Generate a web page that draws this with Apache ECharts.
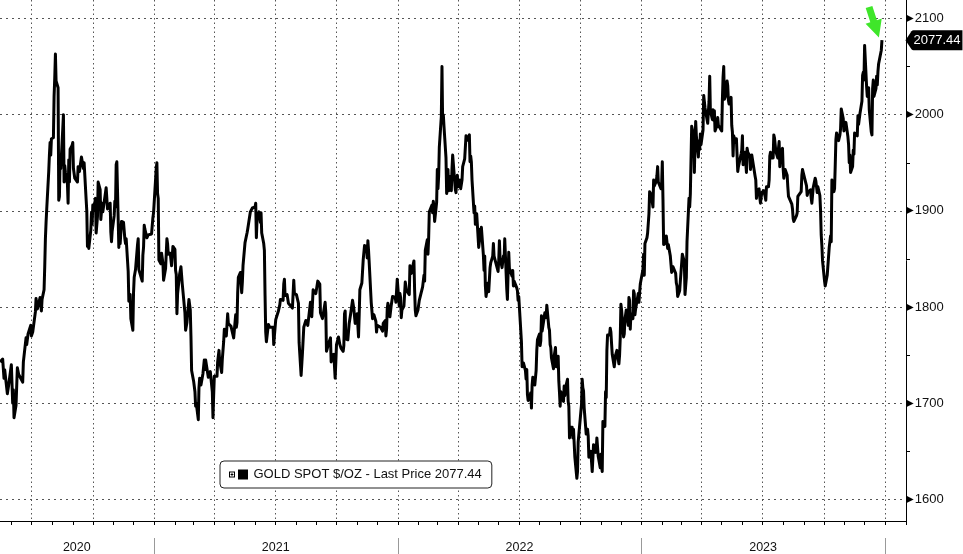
<!DOCTYPE html>
<html><head><meta charset="utf-8">
<script src="https://cdn.jsdelivr.net/npm/echarts@6/dist/echarts.min.js"></script>
<style>html,body{margin:0;padding:0;background:#fff}#c{width:963px;height:554px}</style>
</head><body><div id="c"></div>
<script>
const gold2020 = [['2020-05-15',1743],['2020-05-19',1746],['2020-05-21',1726],['2020-05-22',1735],['2020-05-26',1710],['2020-05-28',1719],['2020-06-01',1740],['2020-06-03',1700],['2020-06-04',1714],['2020-06-05',1685],['2020-06-08',1698],['2020-06-10',1737],['2020-06-12',1730],['2020-06-15',1726],['2020-06-18',1722],['2020-06-19',1743],['2020-06-23',1768],['2020-06-24',1761],['2020-06-26',1772],['2020-06-30',1781],['2020-07-01',1770],['2020-07-03',1774],['2020-07-07',1795],['2020-07-08',1809],['2020-07-10',1798],['2020-07-14',1810],['2020-07-16',1796],['2020-07-17',1808],['2020-07-20',1818],['2020-07-21',1842],['2020-07-22',1871],['2020-07-23',1888],['2020-07-24',1902],['2020-07-27',1941],['2020-07-28',1958],['2020-07-29',1971],['2020-07-30',1958],['2020-07-31',1975],['2020-08-03',1976],['2020-08-04',2019],['2020-08-05',2038],['2020-08-06',2063],['2020-08-07',2035],['2020-08-10',2028],['2020-08-11',1911],['2020-08-12',1915],['2020-08-13',1954],['2020-08-14',1944],['2020-08-17',1985],['2020-08-18',2000],['2020-08-19',1930],['2020-08-20',1947],['2020-08-21',1940],['2020-08-24',1928],['2020-08-25',1908],['2020-08-26',1953],['2020-08-27',1930],['2020-08-28',1964],['2020-08-31',1968],['2020-09-01',1971],['2020-09-02',1944],['2020-09-04',1934],['2020-09-08',1930],['2020-09-09',1946],['2020-09-11',1941],['2020-09-14',1956],['2020-09-16',1958],['2020-09-17',1944],['2020-09-18',1950],['2020-09-21',1912],['2020-09-22',1900],['2020-09-23',1863],['2020-09-24',1868],['2020-09-25',1861],['2020-09-28',1880],['2020-09-29',1898],['2020-09-30',1886],['2020-10-01',1906],['2020-10-02',1900],['2020-10-05',1913],['2020-10-06',1877],['2020-10-08',1894],['2020-10-09',1930],['2020-10-12',1922],['2020-10-13',1891],['2020-10-15',1908],['2020-10-16',1899],['2020-10-21',1924],['2020-10-23',1902],['2020-10-27',1908],['2020-10-28',1878],['2020-10-29',1868],['2020-10-30',1879],['2020-11-02',1895],['2020-11-03',1910],['2020-11-04',1904],['2020-11-05',1948],['2020-11-06',1951],['2020-11-09',1862],['2020-11-10',1877],['2020-11-11',1866],['2020-11-13',1889],['2020-11-16',1888],['2020-11-18',1871],['2020-11-19',1866],['2020-11-20',1871],['2020-11-23',1837],['2020-11-24',1806],['2020-11-26',1813],['2020-11-27',1788],['2020-11-30',1776],['2020-12-01',1815],['2020-12-02',1831],['2020-12-04',1839],['2020-12-07',1865],['2020-12-08',1871],['2020-12-09',1839],['2020-12-11',1839],['2020-12-14',1827],['2020-12-15',1854],['2020-12-16',1862],['2020-12-17',1885],['2020-12-18',1881],['2020-12-21',1872],['2020-12-23',1875],['2020-12-28',1876],['2020-12-30',1893],['2020-12-31',1898]];
const gold2021 = [['2021-01-04',1944],['2021-01-05',1950],['2021-01-06',1918],['2021-01-07',1913],['2021-01-08',1849],['2021-01-11',1845],['2021-01-12',1856],['2021-01-14',1846],['2021-01-15',1828],['2021-01-18',1840],['2021-01-20',1871],['2021-01-21',1866],['2021-01-22',1855],['2021-01-25',1856],['2021-01-27',1843],['2021-01-29',1863],['2021-02-01',1860],['2021-02-02',1838],['2021-02-03',1834],['2021-02-04',1793],['2021-02-05',1814],['2021-02-08',1834],['2021-02-10',1842],['2021-02-12',1824],['2021-02-16',1794],['2021-02-17',1776],['2021-02-18',1775],['2021-02-19',1784],['2021-02-22',1808],['2021-02-24',1797],['2021-02-25',1770],['2021-02-26',1734],['2021-03-01',1723],['2021-03-03',1712],['2021-03-04',1697],['2021-03-05',1700],['2021-03-08',1683],['2021-03-09',1716],['2021-03-10',1726],['2021-03-12',1719],['2021-03-15',1731],['2021-03-17',1745],['2021-03-18',1735],['2021-03-19',1745],['2021-03-23',1727],['2021-03-25',1725],['2021-03-26',1733],['2021-03-29',1712],['2021-03-30',1685],['2021-03-31',1708],['2021-04-01',1728],['2021-04-05',1728],['2021-04-06',1743],['2021-04-08',1755],['2021-04-09',1744],['2021-04-12',1732],['2021-04-13',1746],['2021-04-15',1764],['2021-04-16',1777],['2021-04-19',1770],['2021-04-21',1793],['2021-04-22',1783],['2021-04-26',1780],['2021-04-28',1774],['2021-04-30',1768],['2021-05-03',1792],['2021-05-04',1779],['2021-05-05',1784],['2021-05-06',1815],['2021-05-07',1831],['2021-05-10',1836],['2021-05-12',1815],['2021-05-13',1826],['2021-05-14',1843],['2021-05-17',1867],['2021-05-18',1869],['2021-05-20',1877],['2021-05-21',1881],['2021-05-25',1899],['2021-05-26',1897],['2021-05-28',1903],['2021-06-01',1904],['2021-06-02',1908],['2021-06-03',1872],['2021-06-04',1891],['2021-06-07',1899],['2021-06-09',1888],['2021-06-10',1898],['2021-06-11',1877],['2021-06-14',1866],['2021-06-15',1859],['2021-06-16',1812],['2021-06-17',1774],['2021-06-18',1764],['2021-06-21',1782],['2021-06-23',1779],['2021-06-25',1781],['2021-06-28',1779],['2021-06-29',1761],['2021-06-30',1770],['2021-07-02',1787],['2021-07-06',1796],['2021-07-08',1802],['2021-07-09',1808],['2021-07-13',1807],['2021-07-14',1824],['2021-07-15',1829],['2021-07-16',1812],['2021-07-19',1813],['2021-07-21',1804],['2021-07-23',1802],['2021-07-27',1799],['2021-07-29',1828],['2021-07-30',1814],['2021-08-02',1813],['2021-08-04',1812],['2021-08-05',1804],['2021-08-06',1763],['2021-08-09',1729],['2021-08-10',1731],['2021-08-11',1752],['2021-08-13',1779],['2021-08-16',1786],['2021-08-18',1787],['2021-08-19',1781],['2021-08-23',1805],['2021-08-25',1790],['2021-08-27',1818],['2021-08-31',1814],['2021-09-03',1827],['2021-09-06',1824],['2021-09-07',1794],['2021-09-09',1795],['2021-09-10',1788],['2021-09-14',1805],['2021-09-15',1794],['2021-09-16',1754],['2021-09-17',1754],['2021-09-20',1764],['2021-09-22',1768],['2021-09-23',1743],['2021-09-24',1750],['2021-09-27',1751],['2021-09-29',1726],['2021-09-30',1743],['2021-10-01',1761],['2021-10-04',1769],['2021-10-06',1761],['2021-10-08',1757],['2021-10-11',1754],['2021-10-12',1760],['2021-10-13',1793],['2021-10-14',1796],['2021-10-15',1767],['2021-10-18',1766],['2021-10-20',1783],['2021-10-21',1784],['2021-10-22',1792],['2021-10-25',1807],['2021-10-27',1798],['2021-10-29',1783],['2021-11-01',1793],['2021-11-03',1769],['2021-11-04',1792],['2021-11-05',1818],['2021-11-08',1825],['2021-11-10',1849],['2021-11-12',1864],['2021-11-15',1863],['2021-11-16',1851],['2021-11-17',1869],['2021-11-18',1859],['2021-11-19',1846],['2021-11-22',1805],['2021-11-24',1788],['2021-11-26',1792],['2021-11-29',1785],['2021-11-30',1774],['2021-12-01',1781],['2021-12-03',1783],['2021-12-06',1779],['2021-12-09',1775],['2021-12-10',1783],['2021-12-13',1786],['2021-12-14',1770],['2021-12-15',1777],['2021-12-16',1798],['2021-12-17',1804],['2021-12-20',1790],['2021-12-22',1802],['2021-12-24',1811],['2021-12-28',1810],['2021-12-29',1805],['2021-12-31',1829]];
const gold2022 = [['2022-01-03',1801],['2022-01-04',1814],['2022-01-05',1810],['2022-01-06',1789],['2022-01-07',1797],['2022-01-10',1801],['2022-01-12',1826],['2022-01-14',1817],['2022-01-18',1813],['2022-01-19',1843],['2022-01-21',1835],['2022-01-25',1848],['2022-01-26',1818],['2022-01-27',1797],['2022-01-28',1791],['2022-01-31',1797],['2022-02-02',1807],['2022-02-04',1808],['2022-02-07',1821],['2022-02-09',1833],['2022-02-10',1827],['2022-02-11',1859],['2022-02-14',1870],['2022-02-15',1855],['2022-02-16',1871],['2022-02-17',1899],['2022-02-18',1898],['2022-02-21',1906],['2022-02-22',1898],['2022-02-23',1910],['2022-02-24',1903],['2022-02-25',1889],['2022-02-28',1909],['2022-03-01',1943],['2022-03-02',1923],['2022-03-03',1936],['2022-03-04',1966],['2022-03-07',1998],['2022-03-08',2050],['2022-03-09',1992],['2022-03-10',2000],['2022-03-11',1988],['2022-03-14',1955],['2022-03-15',1918],['2022-03-16',1927],['2022-03-17',1943],['2022-03-18',1921],['2022-03-21',1936],['2022-03-22',1921],['2022-03-23',1944],['2022-03-24',1958],['2022-03-25',1958],['2022-03-28',1922],['2022-03-29',1919],['2022-03-30',1933],['2022-03-31',1937],['2022-04-01',1925],['2022-04-04',1932],['2022-04-05',1923],['2022-04-07',1932],['2022-04-08',1946],['2022-04-11',1954],['2022-04-12',1966],['2022-04-13',1978],['2022-04-14',1973],['2022-04-18',1979],['2022-04-19',1951],['2022-04-20',1957],['2022-04-21',1951],['2022-04-22',1932],['2022-04-25',1898],['2022-04-26',1905],['2022-04-27',1886],['2022-04-28',1894],['2022-04-29',1897],['2022-05-02',1862],['2022-05-03',1868],['2022-05-04',1881],['2022-05-05',1877],['2022-05-06',1883],['2022-05-09',1854],['2022-05-10',1838],['2022-05-11',1853],['2022-05-12',1822],['2022-05-13',1811],['2022-05-16',1825],['2022-05-17',1816],['2022-05-18',1815],['2022-05-19',1841],['2022-05-20',1846],['2022-05-23',1853],['2022-05-24',1866],['2022-05-25',1853],['2022-05-27',1853],['2022-05-31',1837],['2022-06-01',1848],['2022-06-02',1869],['2022-06-03',1851],['2022-06-06',1841],['2022-06-08',1853],['2022-06-09',1848],['2022-06-10',1871],['2022-06-13',1819],['2022-06-14',1808],['2022-06-15',1835],['2022-06-16',1857],['2022-06-17',1840],['2022-06-21',1832],['2022-06-22',1838],['2022-06-23',1822],['2022-06-24',1827],['2022-06-28',1820],['2022-06-29',1817],['2022-06-30',1807],['2022-07-01',1811],['2022-07-05',1764],['2022-07-06',1738],['2022-07-07',1740],['2022-07-08',1742],['2022-07-11',1734],['2022-07-12',1725],['2022-07-13',1735],['2022-07-14',1709],['2022-07-15',1703],['2022-07-18',1708],['2022-07-19',1711],['2022-07-20',1695],['2022-07-21',1719],['2022-07-22',1727],['2022-07-25',1719],['2022-07-26',1717],['2022-07-27',1734],['2022-07-28',1755],['2022-07-29',1766],['2022-08-01',1772],['2022-08-02',1760],['2022-08-03',1765],['2022-08-04',1791],['2022-08-05',1775],['2022-08-08',1789],['2022-08-09',1794],['2022-08-10',1792],['2022-08-11',1789],['2022-08-12',1802],['2022-08-15',1779],['2022-08-16',1776],['2022-08-17',1761],['2022-08-18',1758],['2022-08-19',1747],['2022-08-22',1736],['2022-08-23',1749],['2022-08-24',1751],['2022-08-25',1758],['2022-08-26',1738],['2022-08-29',1749],['2022-08-30',1723],['2022-08-31',1711],['2022-09-01',1697],['2022-09-02',1712],['2022-09-06',1702],['2022-09-07',1718],['2022-09-08',1708],['2022-09-09',1716],['2022-09-12',1725],['2022-09-13',1702],['2022-09-14',1697],['2022-09-15',1664],['2022-09-16',1675],['2022-09-19',1675],['2022-09-20',1664],['2022-09-21',1673],['2022-09-22',1671],['2022-09-23',1644],['2022-09-26',1622],['2022-09-27',1629],['2022-09-28',1660],['2022-09-29',1661],['2022-09-30',1661],['2022-10-03',1699],['2022-10-04',1725],['2022-10-05',1716],['2022-10-06',1713],['2022-10-07',1695],['2022-10-10',1668],['2022-10-11',1666],['2022-10-12',1673],['2022-10-13',1666],['2022-10-14',1644],['2022-10-17',1650],['2022-10-18',1652],['2022-10-19',1629],['2022-10-20',1627],['2022-10-21',1657],['2022-10-24',1649],['2022-10-25',1652],['2022-10-26',1664],['2022-10-27',1664],['2022-10-28',1645],['2022-10-31',1633],['2022-11-01',1647],['2022-11-02',1635],['2022-11-03',1629],['2022-11-04',1681],['2022-11-07',1676],['2022-11-08',1712],['2022-11-09',1706],['2022-11-10',1755],['2022-11-11',1771],['2022-11-14',1771],['2022-11-15',1778],['2022-11-16',1774],['2022-11-17',1762],['2022-11-18',1751],['2022-11-21',1738],['2022-11-22',1740],['2022-11-23',1750],['2022-11-25',1755],['2022-11-28',1741],['2022-11-29',1750],['2022-11-30',1768],['2022-12-01',1803],['2022-12-02',1797],['2022-12-05',1769],['2022-12-06',1772],['2022-12-07',1787],['2022-12-08',1789],['2022-12-09',1797],['2022-12-12',1781],['2022-12-13',1810],['2022-12-14',1807],['2022-12-15',1777],['2022-12-16',1793],['2022-12-19',1788],['2022-12-20',1817],['2022-12-21',1814],['2022-12-22',1792],['2022-12-23',1798],['2022-12-27',1814],['2022-12-28',1805],['2022-12-29',1815],['2022-12-30',1824]];
const gold2023 = [['2023-01-03',1839],['2023-01-04',1855],['2023-01-05',1833],['2023-01-06',1866],['2023-01-09',1872],['2023-01-10',1877],['2023-01-11',1876],['2023-01-12',1897],['2023-01-13',1920],['2023-01-16',1916],['2023-01-17',1909],['2023-01-18',1904],['2023-01-19',1932],['2023-01-20',1926],['2023-01-23',1931],['2023-01-24',1937],['2023-01-25',1946],['2023-01-26',1930],['2023-01-27',1928],['2023-01-30',1923],['2023-01-31',1928],['2023-02-01',1951],['2023-02-02',1912],['2023-02-03',1865],['2023-02-06',1867],['2023-02-07',1874],['2023-02-08',1875],['2023-02-09',1861],['2023-02-10',1865],['2023-02-13',1853],['2023-02-14',1854],['2023-02-15',1836],['2023-02-16',1836],['2023-02-17',1842],['2023-02-21',1835],['2023-02-22',1825],['2023-02-23',1822],['2023-02-24',1811],['2023-02-27',1817],['2023-02-28',1827],['2023-03-01',1836],['2023-03-02',1835],['2023-03-03',1855],['2023-03-06',1847],['2023-03-07',1813],['2023-03-08',1815],['2023-03-09',1831],['2023-03-10',1868],['2023-03-13',1913],['2023-03-14',1904],['2023-03-15',1918],['2023-03-16',1919],['2023-03-17',1988],['2023-03-20',1978],['2023-03-21',1940],['2023-03-22',1970],['2023-03-23',1993],['2023-03-24',1978],['2023-03-27',1956],['2023-03-28',1973],['2023-03-29',1964],['2023-03-30',1980],['2023-03-31',1969],['2023-04-03',1984],['2023-04-04',2020],['2023-04-05',2021],['2023-04-06',2007],['2023-04-10',1991],['2023-04-11',2003],['2023-04-12',2014],['2023-04-13',2040],['2023-04-14',2004],['2023-04-17',1995],['2023-04-18',2005],['2023-04-19',1994],['2023-04-20',2004],['2023-04-21',1983],['2023-04-24',1989],['2023-04-25',1997],['2023-04-26',1989],['2023-04-27',1988],['2023-04-28',1990],['2023-05-01',1983],['2023-05-02',2016],['2023-05-03',2039],['2023-05-04',2050],['2023-05-05',2016],['2023-05-08',2022],['2023-05-09',2035],['2023-05-10',2030],['2023-05-11',2015],['2023-05-12',2011],['2023-05-15',2018],['2023-05-16',1989],['2023-05-17',1982],['2023-05-18',1957],['2023-05-19',1978],['2023-05-22',1971],['2023-05-23',1975],['2023-05-24',1958],['2023-05-25',1941],['2023-05-26',1946],['2023-05-30',1959],['2023-05-31',1963],['2023-06-01',1978],['2023-06-02',1948],['2023-06-05',1961],['2023-06-06',1963],['2023-06-07',1940],['2023-06-08',1965],['2023-06-09',1961],['2023-06-12',1957],['2023-06-13',1943],['2023-06-14',1943],['2023-06-15',1958],['2023-06-16',1958],['2023-06-20',1936],['2023-06-21',1932],['2023-06-22',1913],['2023-06-23',1921],['2023-06-26',1923],['2023-06-27',1914],['2023-06-28',1908],['2023-06-29',1908],['2023-06-30',1919],['2023-07-03',1921],['2023-07-05',1915],['2023-07-06',1911],['2023-07-07',1925],['2023-07-10',1925],['2023-07-11',1932],['2023-07-12',1957],['2023-07-13',1961],['2023-07-14',1955],['2023-07-17',1955],['2023-07-18',1979],['2023-07-19',1976],['2023-07-20',1969],['2023-07-21',1962],['2023-07-24',1955],['2023-07-25',1965],['2023-07-26',1972],['2023-07-27',1946],['2023-07-28',1959],['2023-07-31',1965],['2023-08-01',1944],['2023-08-02',1934],['2023-08-03',1934],['2023-08-04',1943],['2023-08-07',1937],['2023-08-08',1925],['2023-08-09',1915],['2023-08-10',1913],['2023-08-11',1914],['2023-08-14',1907],['2023-08-15',1902],['2023-08-16',1892],['2023-08-17',1889],['2023-08-18',1889],['2023-08-21',1895],['2023-08-22',1898],['2023-08-23',1915],['2023-08-24',1917],['2023-08-25',1915],['2023-08-28',1920],['2023-08-29',1937],['2023-08-30',1943],['2023-08-31',1940],['2023-09-01',1940],['2023-09-05',1926],['2023-09-06',1916],['2023-09-07',1919],['2023-09-08',1919],['2023-09-11',1922],['2023-09-12',1913],['2023-09-13',1908],['2023-09-14',1910],['2023-09-15',1924],['2023-09-18',1934],['2023-09-19',1931],['2023-09-20',1930],['2023-09-21',1919],['2023-09-22',1925],['2023-09-25',1916],['2023-09-26',1901],['2023-09-27',1875],['2023-09-28',1864],['2023-09-29',1848],['2023-10-02',1827],['2023-10-03',1822],['2023-10-04',1821],['2023-10-05',1820],['2023-10-06',1833],['2023-10-09',1862],['2023-10-10',1861],['2023-10-11',1874],['2023-10-12',1868],['2023-10-13',1932],['2023-10-16',1920],['2023-10-17',1923],['2023-10-18',1947],['2023-10-19',1974],['2023-10-20',1981],['2023-10-23',1973],['2023-10-24',1971],['2023-10-25',1979],['2023-10-26',1985],['2023-10-27',2006],['2023-10-30',1996],['2023-10-31',1983],['2023-11-01',1983],['2023-11-02',1985],['2023-11-03',1992],['2023-11-06',1977],['2023-11-07',1969],['2023-11-08',1950],['2023-11-09',1958],['2023-11-10',1940],['2023-11-13',1946],['2023-11-14',1963],['2023-11-15',1959],['2023-11-16',1981],['2023-11-17',1981],['2023-11-20',1978],['2023-11-21',1999],['2023-11-22',1990],['2023-11-24',2001],['2023-11-27',2014],['2023-11-28',2041],['2023-11-29',2044],['2023-11-30',2036],['2023-12-01',2072],['2023-12-04',2029],['2023-12-05',2019],['2023-12-06',2025],['2023-12-07',2028],['2023-12-08',2005],['2023-12-11',1982],['2023-12-12',1979],['2023-12-13',2027],['2023-12-14',2036],['2023-12-15',2019],['2023-12-18',2027],['2023-12-19',2040],['2023-12-20',2031],['2023-12-21',2045],['2023-12-22',2053],['2023-12-26',2067],['2023-12-27',2077.44]];

const yMajorTicks = [1600, 1700, 1800, 1900, 2000, 2100];
const yMinorTicks = [1650, 1750, 1850, 1950, 2050];
const yRange = [1577.65, 2119.2];
const axisStart = '2020-05-15';
const axisEnd = '2024-02-01';
const yearLabels = { '2020-09-07': '2020', '2021-07-02': '2021', '2022-07-02': '2022', '2023-07-02': '2023' };
const quarterMonths = ['01', '04', '07', '10'];
const seriesName = 'GOLD SPOT $/OZ';
const lastPriceLabel = '2077.44';

// daily category axis
const days = [];
for (let t = Date.parse(axisStart + 'T00:00:00Z'); t <= Date.parse(axisEnd + 'T00:00:00Z'); t += 86400000) {
  days.push(new Date(t).toISOString().slice(0, 10));
}
const series = [].concat(gold2020, gold2021, gold2022, gold2023);
const last = series[series.length - 1];
const lastIdx = days.indexOf(last[0]);

const isMonthStart = (i, v) => v.slice(8) === '01';
const isQuarterStart = (i, v) => v.slice(8) === '01' && quarterMonths.indexOf(v.slice(5, 7)) >= 0;
const isYearStart = (i, v) => v.slice(5) === '01-01';

const FONT = 'Liberation Sans';
const tagPath = 'path://M0,10L6,1Q7,0 8,0H57V20H8Q7,20 6,19Z';
const arrowPath = 'path://M5,0H12V15H17L8.5,32L0,15H5Z';
const legendIconPath = 'path://M0,2H6V8H0Z M1,3V7H5V3Z M1.6,4.6H4.4V5.4H1.6Z M2.6,3.6H3.4V6.4H2.6Z M9,0H19V10H9Z';

const chart = echarts.init(document.getElementById('c'), null, { renderer: 'canvas' });
chart.setOption({
  animation: false,
  backgroundColor: '#ffffff',
  grid: { left: 0, right: 57, top: 0, bottom: 33, outerBoundsMode: 'none', containLabel: false },
  legend: {
    show: true,
    left: 220, top: 461,
    orient: 'horizontal',
    padding: [7, 10, 7, 9],
    backgroundColor: '#ffffff',
    borderColor: '#222',
    borderWidth: 1,
    borderRadius: 4,
    icon: legendIconPath,
    itemWidth: 20, itemHeight: 10,
    itemGap: 5,
    itemStyle: { borderWidth: 0, color: '#000' },
    textStyle: { fontFamily: FONT, fontSize: 13, color: '#111' },
    formatter: (name) => name + ' - Last Price ' + lastPriceLabel,
    data: [seriesName]
  },
  xAxis: [{
    type: 'category',
    data: days,
    boundaryGap: false,
    position: 'bottom',
    axisLine: { show: true, onZero: false, lineStyle: { color: '#000', width: 1 } },
    axisTick: { show: true, interval: isMonthStart, length: 4, lineStyle: { color: '#000', width: 1 } },
    axisLabel: { show: false },
    splitLine: { show: true, interval: isQuarterStart, lineStyle: { color: '#555', width: 1, type: [1.5, 3] } }
  }, {
    type: 'category',
    data: days,
    boundaryGap: false,
    position: 'bottom',
    offset: 17,
    axisLine: { show: false },
    axisTick: { show: true, interval: isYearStart, length: 16, lineStyle: { color: '#999', width: 1 } },
    axisLabel: {
      show: true,
      interval: (i, v) => yearLabels.hasOwnProperty(v),
      formatter: (v) => yearLabels[v] || '',
      margin: 3,
      fontFamily: FONT, fontSize: 12.5, color: '#111'
    },
    splitLine: { show: false }
  }],
  yAxis: [{
    type: 'value',
    position: 'right',
    min: yRange[0], max: yRange[1],
    axisLine: { show: true, lineStyle: { color: '#000', width: 1 } },
    axisTick: { show: true, customValues: yMajorTicks, length: 4, lineStyle: { color: '#000' } },
    axisLabel: {
      show: true,
      customValues: yMajorTicks,
      margin: 0,
      formatter: (v) => '{t|▶}{v|' + v + '}',
      rich: {
        t: { fontFamily: 'DejaVu Sans', fontSize: 10, color: '#000' },
        v: { fontFamily: FONT, fontSize: 13, color: '#111', padding: [0, 0, 0, 1] }
      }
    },
    splitLine: { show: true, lineStyle: { color: '#555', width: 1, type: [2, 4] } }
  }, {
    type: 'value',
    position: 'right',
    min: yRange[0], max: yRange[1],
    axisLine: { show: false },
    axisTick: { show: true, customValues: yMinorTicks, length: 4, lineStyle: { color: '#000' } },
    axisLabel: { show: false },
    splitLine: { show: false }
  }],
  series: [{
    name: seriesName,
    type: 'line',
    xAxisIndex: 0, yAxisIndex: 0,
    data: series,
    showSymbol: false,
    symbol: 'none',
    lineStyle: { color: '#000', width: 3, join: 'round' },
    itemStyle: { color: '#000' },
    markPoint: {
      silent: true,
      data: [{
        coord: [lastIdx, last[1]],
        symbol: tagPath,
        symbolSize: [57, 20],
        symbolKeepAspect: false,
        symbolOffset: [52, 0],
        itemStyle: { color: '#000' },
        label: { show: true, position: 'inside', offset: [3, 0], formatter: lastPriceLabel, color: '#fff', fontFamily: FONT, fontSize: 13 }
      }, {
        coord: [lastIdx, last[1]],
        symbol: arrowPath,
        symbolSize: [17, 32],
        symbolKeepAspect: false,
        symbolRotate: 18,
        symbolOffset: [-8, -18],
        itemStyle: { color: '#3fe62a' },
        label: { show: false }
      }]
    }
  }]
});
</script>
</body></html>
